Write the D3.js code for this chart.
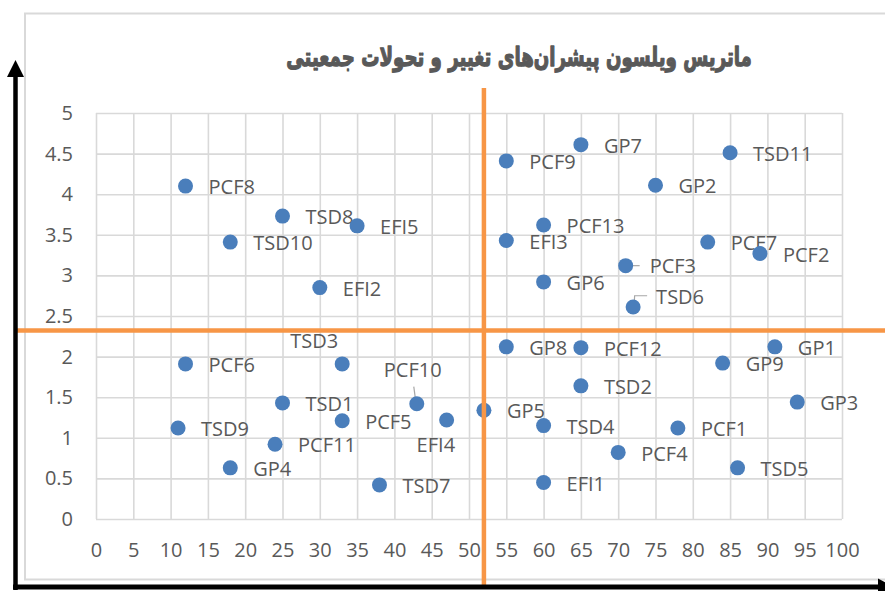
<!DOCTYPE html>
<html>
<head>
<meta charset="utf-8">
<script src="https://cdn.jsdelivr.net/npm/d3@7.9.0/dist/d3.min.js"></script>
<style>
  body { margin: 0; background: #fff; }
  svg { display: block; }
  text { font-family: "Open Sans", sans-serif; fill: #595959; }
</style>
</head>
<body>
<svg id="chart" width="885" height="591"></svg>
<script>
const title = 'ماتریس ویلسون پیشران‌های تغییر و تحولات جمعیتی';

const names = ['PCF1', 'PCF2', 'PCF3', 'PCF4', 'PCF5', 'PCF6', 'PCF7', 'PCF8', 'PCF9', 'PCF10', 'PCF11', 'PCF12', 'PCF13',
  'GP1', 'GP2', 'GP3', 'GP4', 'GP5', 'GP6', 'GP7', 'GP8', 'GP9',
  'TSD1', 'TSD2', 'TSD3', 'TSD4', 'TSD5', 'TSD6', 'TSD7', 'TSD8', 'TSD9', 'TSD10', 'TSD11',
  'EFI1', 'EFI2', 'EFI3', 'EFI4', 'EFI5'];
const xValues = [78, 89, 71, 70, 33, 12, 82, 12, 55, 43, 24, 65, 60,
  91, 75, 94, 18, 52, 60, 65, 55, 84,
  25, 65, 33, 60, 86, 72, 38, 25, 11, 18, 85,
  60, 30, 55, 47, 35];
const yValues = [1.12, 3.27, 3.12, 0.82, 1.21, 1.91, 3.41, 4.1, 4.41, 1.42, 0.92, 2.11, 3.62,
  2.12, 4.11, 1.44, 0.63, 1.34, 2.92, 4.61, 2.12, 1.92,
  1.43, 1.64, 1.91, 1.15, 0.63, 2.61, 0.42, 3.73, 1.12, 3.41, 4.51,
  0.45, 2.85, 3.43, 1.22, 3.61];

const xTicks = d3.range(0, 101, 5);
const yTicks = [0, 0.5, 1, 1.5, 2, 2.5, 3, 3.5, 4, 4.5, 5];

// quadrant split lines
const xSplit = 52;
const ySplit = 2.32;

// hand-moved labels (pixel offsets from the dot), everything else sits right of its dot
const labelMoves = {
  TSD3: { dx: -52, dy: -23 },
  PCF10: { dx: -33, dy: -34, leader: [[-3, -17], [-1, -2]] },
  EFI4: { dx: -30, dy: 25 },
  PCF3: { dx: 24, dy: 0, leader: [[0, 0], [14, 0]] },
  TSD6: { dx: 23, dy: -10, leader: [[1, -2], [1.5, -11.3], [14, -11.3]] }
};

const svg = d3.select('#chart');

const x = d3.scaleLinear().domain([0, 100]).range([96, 842]);
const y = d3.scaleLinear().domain([0, 5]).range([519, 113]);

// chart frame
svg.append('rect')
  .attr('x', 25).attr('y', 13.5)
  .attr('width', 900).attr('height', 566)
  .attr('fill', 'none')
  .attr('stroke', '#d9d9d9')
  .attr('stroke-width', 2);

// grid + tick labels
const gx = svg.append('g')
  .attr('transform', `translate(0,${y(0)})`)
  .call(d3.axisBottom(x).tickValues(xTicks).tickSize(-(y(0) - y(5))).tickPadding(24));
const gy = svg.append('g')
  .attr('transform', `translate(${x(0)},0)`)
  .call(d3.axisLeft(y).tickValues(yTicks).tickFormat(d3.format('')).tickSize(-(x(100) - x(0))).tickPadding(23));

[gx, gy].forEach(g => {
  g.select('.domain').remove();
  g.selectAll('.tick line').attr('stroke', '#d9d9d9').attr('stroke-width', 1.6);
  g.selectAll('.tick text').attr('font-size', 20).attr('fill', '#595959')
    .style('font-family', '"Open Sans", sans-serif');
});

const points = names.map((n, i) => ({ name: n, x: xValues[i], y: yValues[i] }));

// leader lines
const leaderLine = d3.line();
points.filter(d => labelMoves[d.name] && labelMoves[d.name].leader).forEach(d => {
  const pts = labelMoves[d.name].leader.map(([a, b]) => [x(d.x) + a, y(d.y) + b]);
  svg.append('path')
    .attr('d', leaderLine(pts))
    .attr('fill', 'none')
    .attr('stroke', '#a6a6a6')
    .attr('stroke-width', 1.2);
});

// data labels
svg.append('g')
  .selectAll('text')
  .data(points)
  .join('text')
  .attr('x', d => x(d.x) + (labelMoves[d.name] ? labelMoves[d.name].dx : 23))
  .attr('y', d => y(d.y) + (labelMoves[d.name] ? labelMoves[d.name].dy : 1))
  .attr('dy', '0.36em')
  .attr('font-size', 20)
  .text(d => d.name);

// dots
svg.append('g')
  .selectAll('circle')
  .data(points)
  .join('circle')
  .attr('cx', d => x(d.x))
  .attr('cy', d => y(d.y))
  .attr('r', 7.5)
  .attr('fill', '#4a7ebb');

// quadrant lines
svg.append('line')
  .attr('x1', x(xSplit)).attr('x2', x(xSplit))
  .attr('y1', 88).attr('y2', 585)
  .attr('stroke', '#f79646').attr('stroke-width', 4.5);
svg.append('line')
  .attr('x1', 15).attr('x2', 885)
  .attr('y1', y(ySplit)).attr('y2', y(ySplit))
  .attr('stroke', '#f79646').attr('stroke-width', 4.5);

// black arrows
svg.append('line')
  .attr('x1', 15.5).attr('x2', 15.5)
  .attr('y1', 590).attr('y2', 74)
  .attr('stroke', '#000').attr('stroke-width', 4.5);
svg.append('path')
  .attr('d', 'M15.5,60 L7,77 L24,77 Z')
  .attr('fill', '#000');
svg.append('line')
  .attr('x1', 13).attr('x2', 880)
  .attr('y1', 587).attr('y2', 587)
  .attr('stroke', '#000').attr('stroke-width', 5);
svg.append('path')
  .attr('d', 'M894,587 L878,578.5 L878,595.5 Z')
  .attr('fill', '#000');

// title: heavy display face in the original, so fit the width then stretch it taller
const titleG = svg.append('g');
const t = titleG.append('text')
  .attr('x', 0)
  .attr('y', 0)
  .attr('text-anchor', 'middle')
  .attr('dominant-baseline', 'middle')
  .attr('direction', 'rtl')
  .attr('font-size', 22)
  .attr('font-weight', 'bold')
  .style('font-family', '"DejaVu Sans", sans-serif')
  .style('fill', '#595959')
  .style('stroke', '#595959')
  .style('stroke-width', 0.9)
  .style('stroke-linejoin', 'round')
  .text(title);

const w = t.node().getBBox().width;
if (w > 0) t.attr('font-size', 22 * 466 / w);
titleG.attr('transform', 'translate(519,58) scale(1,1.45)');
</script>
</body>
</html>
